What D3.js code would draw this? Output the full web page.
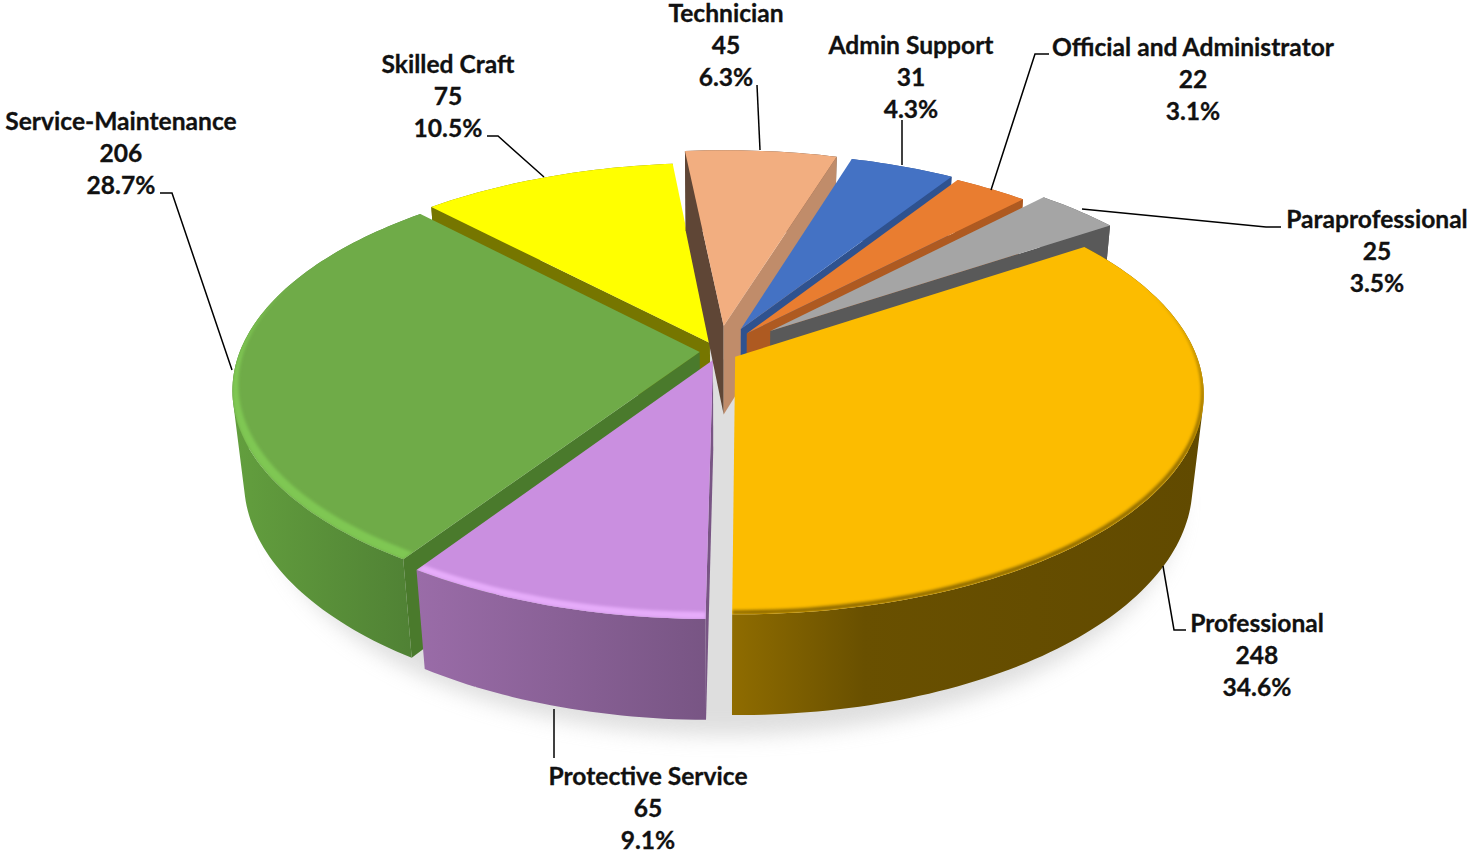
<!DOCTYPE html>
<html><head><meta charset="utf-8">
<script src="https://cdn.jsdelivr.net/npm/d3@7/dist/d3.min.js"></script>
<style>html,body{margin:0;padding:0;background:#fff;overflow:hidden}svg{display:block}</style>
</head><body><div id="chart"></div>
<script>
const categories = ["Professional","Protective Service","Service-Maintenance","Skilled Craft","Technician","Admin Support","Official and Administrator","Paraprofessional"];
const counts = [248,65,206,75,45,31,22,25];
const percents = ["34.6%","9.1%","28.7%","10.5%","6.3%","4.3%","3.1%","3.5%"];
const offsetU = [0.022,-0.026,-0.055,-0.033,-0.003,0.035,0.048,0.100];
const offsetV = [0.022,0.037,0.000,-0.042,-0.125,-0.110,-0.088,-0.100];
const topColors = ["#FCBC00","#CA8FE0","#6FAB48","#FFFF00","#F2AE80","#4472C4","#E97D30","#A5A5A5"];
const wallLeft = ["#8F6C00","#9A6CA8","#639F3E","#7A7A00","#5F4636","#2F528F","#AE5A21","#595959"];
const wallRight = ["#614A00","#785584","#4F8034","#7A7A00","#5F4636","#2F528F","#AE5A21","#595959"];
const edgeStart = ["#595959","#785584","#4A7A2C","#767600","#5F4636","#2F528F","#AE5A21","#595959"];
const edgeEnd = ["#8F6C00","#9A6CA8","#767600","#5F4636","#C08C6A","#2F528F","#AE5A21","#595959"];
const rimColors = ["#8A6800","#E6ACFA","#7FC753",null,null,null,null,null];
const rimWidths = [0.010,0.017,0.024,0,0,0,0,0];
const drawOrder = [3,2,1,4,5,6,7,0];
const labelX = [1257,648,121,448,726,911,1193,1377];
const labelY = [623,776,121,64,13,45,47,219];
const leaders = [
  [[1163,566],[1174,630],[1186,630]],
  [[554,709],[554,758]],
  [[160,193],[172,193],[232,370]],
  [[487,136],[498,136],[544,177]],
  [[757,85],[760,150]],
  [[902,120],[902,165]],
  [[1049,54],[1035,54],[991,190]],
  [[1082,209],[1266,227],[1281,227]]
];

const W = 1471, H = 856;
const cx = 725, cy = 352, R = 460, K = 213, D = 6, Depth = 92, Zk = 0.14;
const project = (u,v,z) => { const w = D/(D - v + z*Zk); return [cx + R*u*w, cy + (K*v + Depth*z)*w]; };
const line = d3.line();
// signed area in screen pixels, used to skip walls that face away from the viewer
const signedArea = pts => d3.sum(pts,(p,i)=>{const q=pts[(i+1)%pts.length];return p[0]*q[1]-q[0]*p[1];});

const svg = d3.select("#chart").append("svg").attr("width",W).attr("height",H).attr("viewBox",[0,0,W,H]);
const defs = svg.append("defs");
defs.append("filter").attr("id","sh").attr("x","-20%").attr("y","-20%").attr("width","140%").attr("height","140%")
  .append("feGaussianBlur").attr("stdDeviation",10);
defs.append("filter").attr("id","rimblur").attr("x","-20%").attr("y","-20%").attr("width","140%").attr("height","140%")
  .append("feGaussianBlur").attr("stdDeviation",1.8);

const start = 56*Math.PI/180;
const arcs = d3.pie().sort(null).startAngle(start).endAngle(start+2*Math.PI)(counts);

// ground shadow
const shadowPts = d3.range(0,361,3).map(a=>{const t=a*Math.PI/180;return project(1.0*Math.sin(t),-1.0*Math.cos(t)+0.01,1.25);});
svg.append("path").attr("d",line(shadowPts)+"Z").attr("fill","#c4c4c4").attr("opacity",0.55).attr("filter","url(#sh)");

const slices = arcs.map((a,i)=>{
  const ou=offsetU[i], ov=offsetV[i];
  const n=Math.max(6,Math.ceil((a.endAngle-a.startAngle)/0.02));
  const ths=d3.range(n+1).map(k=>a.startAngle+(a.endAngle-a.startAngle)*k/n);
  return {i,ou,ov,ths,mid:(a.startAngle+a.endAngle)/2,pt:(t,r,z)=>project(ou+r*Math.sin(t),ov-r*Math.cos(t),z)};
});

drawOrder.forEach(i=>{
  const s=slices[i], g=svg.append("g").attr("class","slice");
  const topArc=s.ths.map(t=>s.pt(t,1,0)), botArc=s.ths.map(t=>s.pt(t,1,1));
  const xs=topArc.map(p=>p[0]);
  const gid="wall"+i;
  const lg=defs.append("linearGradient").attr("id",gid).attr("gradientUnits","userSpaceOnUse")
    .attr("x1",d3.min(xs)).attr("x2",d3.max(xs)).attr("y1",0).attr("y2",0);
  lg.append("stop").attr("offset",0).attr("stop-color",wallLeft[i]);
  if(i===0) lg.append("stop").attr("offset",0.28).attr("stop-color","#695000");
  lg.append("stop").attr("offset",1).attr("stop-color",wallRight[i]);
  const ap0=s.pt(0,0,0), ap1=s.pt(0,0,1);
  const tS=s.ths[0], tE=s.ths[s.ths.length-1];
  const wallS=[ap0,s.pt(tS,1,0),s.pt(tS,1,1),ap1], wallE=[ap0,s.pt(tE,1,0),s.pt(tE,1,1),ap1];
  // the curved wall: all arc-step quads as one path, every quad wound the same way, so the union has no
  // seams and its silhouette runs straight from the top rim to the bottom rim
  const drawCurved=()=>{
    const quads=d3.range(topArc.length-1).map(k=>{
      const q=[topArc[k],topArc[k+1],botArc[k+1],botArc[k]];
      return line(signedArea(q)<0?q.reverse():q)+"Z";
    }).join("");
    g.append("path").attr("d",quads).attr("fill-rule","nonzero").attr("fill",`url(#${gid})`);
  };
  const back=-Math.cos(s.mid)<0;
  if(back) drawCurved();
  if(signedArea(wallS)<0) g.append("path").attr("d",line(wallS)+"Z").attr("fill",edgeStart[i]);
  if(signedArea(wallE)>0) g.append("path").attr("d",line(wallE)+"Z").attr("fill",edgeEnd[i]);
  if(!back) drawCurved();
  const topPath=line([ap0].concat(topArc))+"Z";
  g.append("path").attr("d",topPath).attr("fill",topColors[i]);
  if(rimColors[i]){
    const cid="clip"+i;
    defs.append("clipPath").attr("id",cid).append("path").attr("d",topPath);
    const inner=s.ths.map(t=>{
      const v=-Math.cos(t);
      return s.pt(t,1-Math.max(0,v+0.35)*rimWidths[i],0);
    });
    g.append("g").attr("clip-path",`url(#${cid})`).append("path")
      .attr("d",line(topArc.concat(inner.reverse()))+"Z")
      .attr("fill",rimColors[i]).attr("filter","url(#rimblur)");
  }
});

// leader lines
svg.append("g").selectAll("path").data(leaders).join("path")
  .attr("d",d=>line(d)).attr("fill","none").attr("stroke","#000").attr("stroke-width",1.5);

// labels
const lab=svg.append("g").attr("font-family","Lato, 'Open Sans', sans-serif").attr("font-weight",700)
  .attr("font-size",24.6).attr("fill","#111").attr("stroke","#111").attr("stroke-width",0.3).attr("text-anchor","middle");
categories.forEach((c,i)=>{
  [c,String(counts[i]),percents[i]].forEach((t,k)=>{
    lab.append("text").attr("x",labelX[i]).attr("y",labelY[i]+k*32.4).attr("dy","0.35em").text(t);
  });
});
</script></body></html>
